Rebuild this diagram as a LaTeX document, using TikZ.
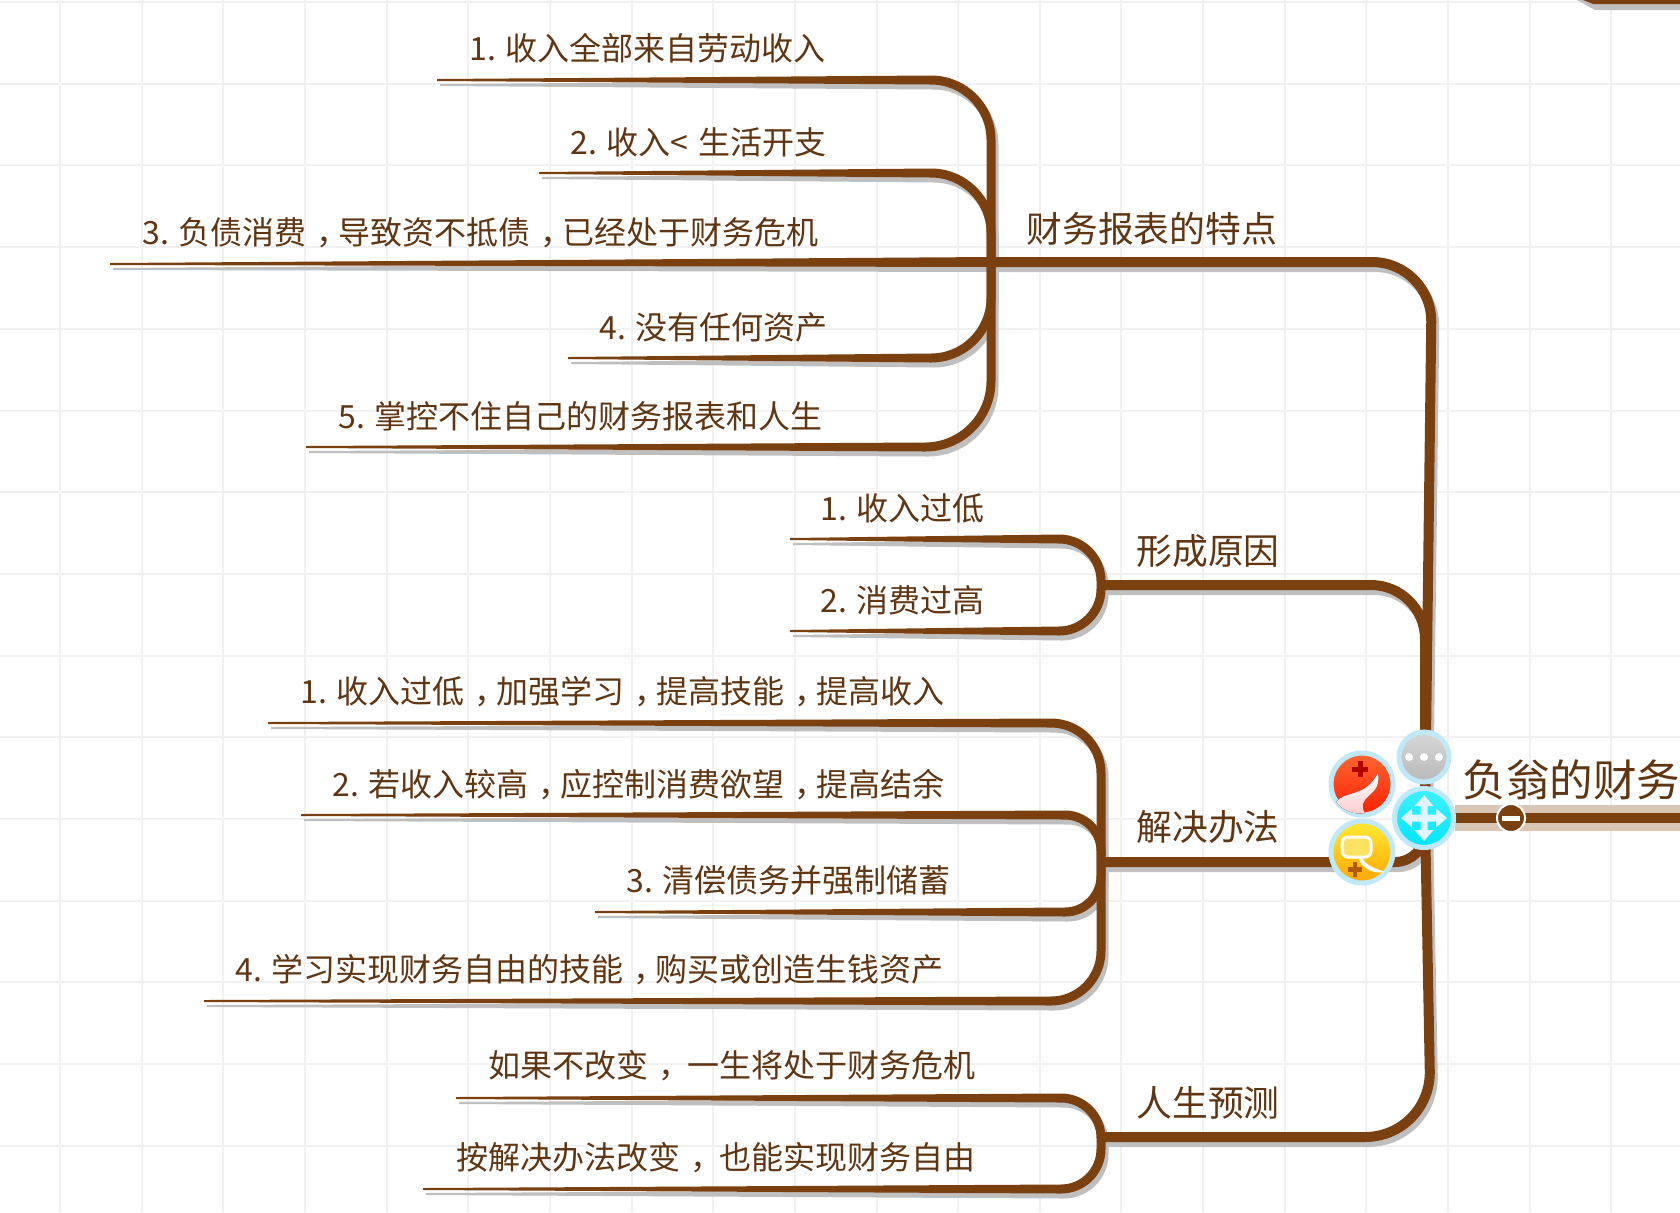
\documentclass[tikz,border=0pt]{standalone}
\usepackage{fontspec}
\setmainfont{Noto Sans CJK SC}
\usetikzlibrary{calc}
\definecolor{branchc}{HTML}{7A400F}
\definecolor{shadec}{HTML}{BFBFBF}
\definecolor{textc}{HTML}{5F3512}
\definecolor{gridc}{HTML}{F1F1F1}
\definecolor{ringc}{HTML}{BFE8F9}
\definecolor{haloc}{HTML}{D9C6B5}
\newcommand{\cma}{\hspace*{.3em}\makebox[.7em][l]{，}}
\begin{document}
\begin{tikzpicture}[x=.5pt,y=-.5pt,
  brownline/.style={color=branchc},
  shadeline/.style={color=shadec,transform canvas={shift={(1.5pt,-2.5pt)}}},
  leaf/.style={font=\fontsize{16}{18}\selectfont,text=textc,anchor=base west,inner sep=0pt},
  topic/.style={font=\fontsize{17.9}{20}\selectfont,text=textc,anchor=base west,inner sep=0pt},
  icon/.style={circle,draw=ringc,line width=2.5pt,inner sep=0pt}]
\useasboundingbox (0,0) rectangle (1680,1212);
\clip (0,0) rectangle (1680,1212);
% grid
\foreach \i in {0,...,20} \draw[gridc,line width=1pt] (60+81.65*\i,0) -- (60+81.65*\i,1212);
\foreach \i in {0,...,14} \draw[gridc,line width=1pt] (0,2+81.7*\i) -- (1680,2+81.7*\i);
% corner of the next branch
\fill[shadec] (1577,0) -- (1595,10) -- (1680,10) -- (1680,0) -- cycle;
\fill[branchc] (1583,0) -- (1593,4) -- (1680,4) -- (1680,0) -- cycle;
% root line
\fill[haloc] (1455,805) rectangle (1680,831);
\draw[branchc,line width=5pt] (1455,818) -- (1680,818);
% joints
\coordinate (root) at (1425,818);
\coordinate (fin) at (991,262);
\coordinate (finc) at (1432,262);
\coordinate (cau) at (1101,585);
\coordinate (sol) at (1101,862);
\coordinate (fut) at (1101,1137);
\coordinate (futc) at (1431,1137);
% free ends
\coordinate (fin1) at (437,80);
\coordinate (fin2) at (539,173);
\coordinate (fin3) at (110,264);
\coordinate (fin4) at (568,358);
\coordinate (fin5) at (306,447);
\coordinate (cau1) at (790,539);
\coordinate (cau2) at (790,631);
\coordinate (sol1) at (268,723);
\coordinate (sol2) at (301,815);
\coordinate (sol3) at (595,912);
\coordinate (sol4) at (204,1001);
\coordinate (fut1) at (456,1098);
\coordinate (fut2) at (423,1189);
% branches, shadows first
\foreach \sty in {shadeline,brownline} {
  \foreach \t/\e/\r in {fin1/fin/60,fin2/fin/60,fin4/fin/60,fin5/fin/66,cau1/cau/42,cau2/cau/42,
    sol1/sol/50,sol2/sol/36,sol3/sol/36,sol4/sol/50,fut1/fut/40,fut2/fut/40} {
    \fill[\sty] ($(\t)+(0,-1)$) -- ($(\t -| \e)+(-\r,-4.5)$) -- ($(\t -| \e)+(-\r,4.5)$) -- ($(\t)+(0,1)$) -- cycle;
    \draw[\sty,line width=4.5pt,rounded corners=\r*.5pt] ($(\t -| \e)+(-\r,0)$) -| (\e);
  }
  \fill[\sty] ($(fin3)+(0,-1)$) -- ($(fin)+(0,-5)$) -- ($(fin)+(0,5)$) -- ($(fin3)+(0,1)$) -- cycle;
  \draw[\sty,line width=5pt,rounded corners=30pt] (fin) -- (finc) -- (root);
  \draw[\sty,line width=5pt,rounded corners=27pt] (cau) -| (root);
  \draw[\sty,line width=5pt,rounded corners=15pt] (sol) -| (root);
  \draw[\sty,line width=5pt,rounded corners=33pt] (fut) -- (futc) -- (root);
}
% texts
\node[leaf] (fint1) at (469,60.5) {1. 收入全部来自劳动收入};
\node[leaf] (fint2) at (570,154.5) {2. 收入<\hspace{1.5pt} 生活开支};
\node[leaf] (fint3) at (142,244.5) {3. 负债消费\cma 导致资不抵债\cma 已经处于财务危机};
\node[leaf] (fint4) at (599,339.5) {4. 没有任何资产};
\node[leaf] (fint5) at (338,428.5) {5. 掌控不住自己的财务报表和人生};
\node[leaf] (caut1) at (820,520.5) {1. 收入过低};
\node[leaf] (caut2) at (820,612.5) {2. 消费过高};
\node[leaf] (solt1) at (300,703.5) {1. 收入过低\cma 加强学习\cma 提高技能\cma 提高收入};
\node[leaf] (solt2) at (332,796.5) {2. 若收入较高\cma 应控制消费欲望\cma 提高结余};
\node[leaf] (solt3) at (626,892.5) {3. 清偿债务并强制储蓄};
\node[leaf] (solt4) at (235,981.5) {4. 学习实现财务自由的技能\cma 购买或创造生钱资产};
\node[leaf] (futt1) at (488,1077) {如果不改变\cma\ 一生将处于财务危机};
\node[leaf] (futt2) at (456,1169) {按解决办法改变\cma\ 也能实现财务自由};
\node[topic] (fint) at (1026,242) {财务报表的特点};
\node[topic] (caut) at (1136,564) {形成原因};
\node[topic] (solt) at (1136,840) {解决办法};
\node[topic] (futt) at (1136,1116) {人生预测};
\node[text=textc,anchor=base west,inner sep=0pt,font=\fontsize{21.8}{24}\selectfont] (roott) at (1462,796) {负翁的财务};
% fold button
\node[circle,fill=branchc,draw=white,line width=1pt,minimum size=14pt,inner sep=0pt] (fold) at (1511,818) {};
\fill[white] ($(fold)+(-9,-2.5)$) rectangle ($(fold)+(9,2.5)$);
% icons
\node[icon,minimum size=25pt,top color=white!10!gray!35,bottom color=gray!55] (more) at (1424,757) {};
\foreach \d in {-15,0,15} \fill[white] ($(more)+(\d,0)$) circle (2pt);
\node[icon,minimum size=31pt,top color=red!50!orange!80,bottom color=red!75!orange] (redi) at (1362,784) {};
\fill[red!70!black] ($(redi)+(-10,-17.5)$) rectangle ($(redi)+(6,-12.5)$);
\fill[red!70!black] ($(redi)+(-4.5,-23)$) rectangle ($(redi)+(.5,-7)$);
\fill[top color=white,bottom color=red!20] (1336,802) .. controls (1345,790) and (1365,798) .. (1378,773)
  .. controls (1381,790) and (1370,793) .. (1365,800) .. controls (1361,805) and (1363,810) .. (1365,813)
  .. controls (1355,815) and (1343,811) .. (1336,802) -- cycle;
\node[icon,minimum size=31pt,top color=yellow!80!orange!80,bottom color=orange!70!yellow] (yeli) at (1362,852) {};
\draw[white,line width=1.5pt,rounded corners=3pt,fill=yellow!70!orange!60] (1342,837) rectangle (1371,857);
\fill[white] (1362,857) .. controls (1365,866) and (1375,868) .. (1385,872) .. controls (1375,874) and (1362,870) .. (1358,857) -- cycle;
\fill[orange!70!black] ($(yeli)+(-14,15)$) rectangle ($(yeli)+(0,19.5)$);
\fill[orange!70!black] ($(yeli)+(-9.2,10)$) rectangle ($(yeli)+(-4.8,24.5)$);
\node[icon,minimum size=29.5pt,top color=cyan!75!white!95!blue,bottom color=cyan!90!blue] (move) at (1424,818) {};
\foreach \a in {0,90,180,270}
  \fill[white!88!cyan,shift={(move)},rotate=\a] (0,-3.5) -- (12,-3.5) -- (12,-9.5) -- (23,0) -- (12,9.5) -- (12,3.5) -- (0,3.5) -- cycle;
\end{tikzpicture}
\end{document}
